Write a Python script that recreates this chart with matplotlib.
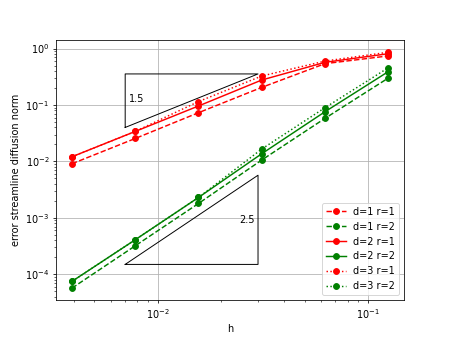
import matplotlib
matplotlib.use("Agg")
import matplotlib.pyplot as plt
import numpy as np

# mesh sizes
h = [1 / 256, 1 / 128, 1 / 64, 1 / 32, 1 / 16, 1 / 8]

# errors, r=1 (red) and r=2 (green), for d=1,2,3
err_d1_r1 = [0.0091, 0.0255, 0.073, 0.205, 0.54, 0.74]
err_d1_r2 = [5.7e-5, 3.2e-4, 1.8e-3, 0.0106, 0.058, 0.30]
err_d2_r1 = [0.0121, 0.034, 0.096, 0.277, 0.57, 0.81]
err_d2_r2 = [7.5e-5, 4.1e-4, 2.3e-3, 0.0137, 0.076, 0.39]
err_d3_r1 = [0.0121, 0.034, 0.115, 0.326, 0.60, 0.86]
err_d3_r2 = [7.5e-5, 4.1e-4, 2.3e-3, 0.0166, 0.0896, 0.457]

labels = ["d=1 r=1", "d=1 r=2", "d=2 r=1", "d=2 r=2", "d=3 r=1", "d=3 r=2"]

# slope triangles
tri_x = [0.007, 0.03]
tri1_ybottom = 0.04
tri2_ybottom = 1.5e-4

fig = plt.figure(figsize=(449 / 70, 337 / 70), dpi=70)

series = [err_d1_r1, err_d1_r2, err_d2_r1, err_d2_r2, err_d3_r1, err_d3_r2]
styles = ["o--", "o--", "o-", "o-", "o:", "o:"]
colors = ["red", "green", "red", "green", "red", "green"]
for err, st, c, lab in zip(series, styles, colors, labels):
    plt.loglog(h, err, st, color=c, label=lab)

# slope 1.5 triangle
x1, x2 = tri_x
y1 = tri1_ybottom
y2 = y1 * (x2 / x1) ** 1.5
plt.plot([x1, x2, x1, x1], [y1, y2, y2, y1], "k", linewidth=1)
plt.text(x1 * 1.04, np.sqrt(y1 * y2) * 1.08, "1.5", va="center", ha="left")

# slope 2.5 triangle
y1 = tri2_ybottom
y2 = y1 * (x2 / x1) ** 2.5
plt.plot([x1, x2, x2, x1], [y1, y1, y2, y1], "k", linewidth=1)
plt.text(x2 * 0.96, np.sqrt(y1 * y2), "2.5", va="center", ha="right")

plt.grid()
plt.xlabel("h")
plt.ylabel("error streamline diffusion norm")
plt.legend(loc="lower right")
plt.savefig("out.png", dpi=70)
